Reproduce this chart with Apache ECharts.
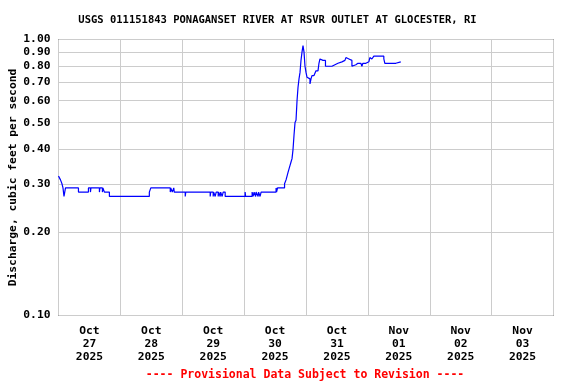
<!DOCTYPE html>
<html><head><meta charset="utf-8">
<script src="https://cdn.jsdelivr.net/npm/echarts@6/dist/echarts.min.js"></script>
<style>html,body{margin:0;padding:0;background:#fff}#c{width:576px;height:384px}</style>
</head><body><div id="c"></div>
<script>
// Hours since Oct 27 2025 00:00 and discharge (cfs), each value holds until the next time
const hours = [0,0.77,1.35,1.74,2.13,2.71,7.74,11.61,12.39,12.58,15.87,16.06,17.03,17.23,17.81,19.74,
35.23,35.81,43.35,43.55,44.13,44.71,44.90,49.16,49.35,58.84,59.03,60.0,60.19,60.77,61.16,61.94,62.13,62.71,62.90,63.48,63.87,64.65,
72.39,72.58,75.10,75.48,75.87,76.45,76.65,77.42,77.61,78.19,78.58,84.39,84.58,84.97,87.68,88.26,88.65,89.03,89.42,89.81,90.19,90.58,
90.97,91.35,91.74,92.13,92.52,92.90,93.29,93.68,94.06,94.45,94.84,95.23,95.61,96.0,96.39,96.77,97.16,97.55,97.94,98.32,99.10,99.87,
100.65,101.03,101.42,102.19,102.58,103.16,103.55,103.74,104.13,106.06,107.23,108.39,109.94,111.10,111.48,111.87,112.65,113.42,113.81,
114.19,115.35,116.13,116.52,117.29,117.68,118.06,119.23,119.61,120.39,120.77,121.16,121.55,122.32,126.19,126.58,126.97,127.35,128.52,
128.90,129.68,130.45,130.84,131.61,132.77];
const flow = [0.32,0.31,0.30,0.29,0.27,0.29,0.28,0.29,0.28,0.29,0.28,0.29,0.28,0.29,0.28,0.27,
0.28,0.29,0.28,0.29,0.28,0.29,0.28,0.27,0.28,0.27,0.28,0.27,0.28,0.27,0.28,0.27,0.28,0.27,0.28,0.27,0.28,0.27,
0.28,0.27,0.28,0.27,0.28,0.27,0.28,0.27,0.28,0.27,0.28,0.29,0.28,0.29,0.30,0.31,0.32,0.33,0.34,0.35,0.36,0.37,
0.40,0.45,0.50,0.51,0.60,0.67,0.72,0.76,0.84,0.90,0.95,0.90,0.80,0.76,0.73,0.74,0.72,0.69,0.72,0.74,0.75,0.77,
0.78,0.82,0.85,0.84,0.85,0.84,0.80,0.79,0.80,0.81,0.82,0.83,0.84,0.85,0.86,0.85,0.84,0.84,0.80,
0.81,0.82,0.81,0.82,0.81,0.80,0.82,0.81,0.83,0.84,0.86,0.85,0.86,0.87,0.85,0.82,0.83,0.82,0.83,
0.82,0.83,0.82,0.83,0.83,0.83];
const dayMonths = ['Oct','Oct','Oct','Oct','Oct','Nov','Nov','Nov'];
const dayNums = ['27','28','29','30','31','01','02','03'];
const dayYears = ['2025','2025','2025','2025','2025','2025','2025','2025'];
const yTicks = [0.1,0.2,0.3,0.4,0.5,0.6,0.7,0.8,0.9,1.0];
const titleText = 'USGS 011151843 PONAGANSET RIVER AT RSVR OUTLET AT GLOCESTER, RI';
const yName = 'Discharge, cubic feet per second';
const footer = '---- Provisional Data Subject to Revision ----';

const FONT = '"DejaVu Sans Mono", monospace';
const midnights = dayNums.map((d,i)=>i*24).concat([192]);
const noons = dayNums.map((d,i)=>i*24+12);

const chart = echarts.init(document.getElementById('c'), null, {renderer:'canvas'});
chart.setOption({
  animation:false,
  backgroundColor:'#fff',
  graphic:[
    {type:'text',x:277.5,y:20,
      style:{text:titleText,fill:'#000',align:'center',verticalAlign:'middle',font:'bold 10.5px "DejaVu Sans Mono", monospace'}},
    {type:'text',x:305,y:375,
      style:{text:footer,fill:'#ff0000',align:'center',verticalAlign:'middle',font:'bold 11.5px "DejaVu Sans Mono", monospace'}}
  ],
  grid:{left:58.5,top:39.5,width:495,height:276,show:true,borderColor:'#000',borderWidth:1,
    backgroundColor:'transparent',containLabel:false,outerBoundsMode:'none'},
  xAxis:{type:'value',min:0,max:192,
    axisLine:{show:false},
    axisTick:{show:false,customValues:midnights},
    splitLine:{show:true,lineStyle:{color:'#cccccc',width:1}},
    axisLabel:{customValues:noons,margin:9,lineHeight:13,
      fontFamily:FONT,fontWeight:'bold',fontSize:11.3,color:'#000',
      formatter:function(v){const i=Math.round((v-12)/24);return dayMonths[i]+'\n'+dayNums[i]+'\n'+dayYears[i];}}},
  yAxis:{type:'log',logBase:10,min:0.1,max:1,
    name:yName,nameLocation:'middle',nameGap:40,nameRotate:90,nameMoveOverlap:false,
    nameTextStyle:{fontFamily:FONT,fontWeight:'bold',fontSize:11.3,color:'#000'},
    axisLine:{show:false},
    axisTick:{show:false,customValues:yTicks},
    splitLine:{show:true,lineStyle:{color:'#cccccc',width:1}},
    axisLabel:{customValues:yTicks,margin:8,fontFamily:FONT,fontWeight:'bold',fontSize:11.3,color:'#000',
      formatter:function(v){return Number(v).toFixed(2);}}},
  series:[{type:'line',step:'end',showSymbol:false,
    data:hours.map((h,i)=>[h,flow[i]]),
    lineStyle:{color:'#0000ff',width:1.2},itemStyle:{color:'#0000ff'}}]
});
</script></body></html>
